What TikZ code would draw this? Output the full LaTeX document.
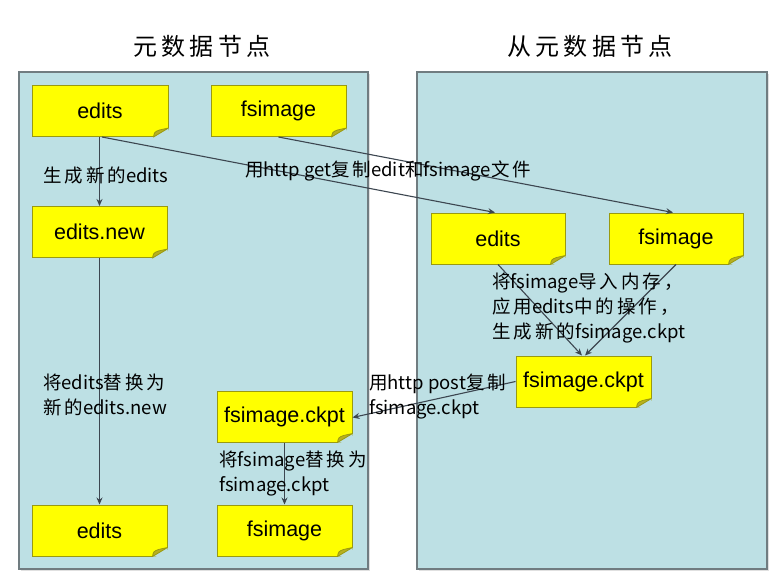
\documentclass[tikz,border=0pt]{standalone}
\usepackage{fontspec}
\setmainfont{Liberation Sans}
\newfontfamily\cjk{Noto Sans CJK SC}
\newfontfamily\cjks[LetterSpace=16]{Noto Sans CJK SC}
\newfontfamily\cjktitle[LetterSpace=17]{Noto Sans CJK SC}
\usetikzlibrary{arrows.meta}
\definecolor{panelfill}{HTML}{BDE0E4}
\definecolor{panelline}{HTML}{707C80}
\definecolor{noteyellow}{HTML}{FFFF00}
\definecolor{noteline}{HTML}{9A9A10}
\definecolor{notefold}{HTML}{B8B020}
\definecolor{wire}{HTML}{3C4650}
\newcommand\cs[1]{{\cjks #1}}
\newcommand\notefoldat[1]{%
  \fill[panelfill] ([xshift=-15pt]#1.south east) -- ([xshift=1pt,yshift=-1pt]#1.south east) -- ([yshift=9pt]#1.south east) -- cycle;
  \filldraw[fill=notefold, draw=noteline, line width=0.8pt, line join=round]
    ([xshift=-15pt]#1.south east) .. controls ([xshift=-14pt,yshift=5pt]#1.south east) .. ([xshift=-9pt,yshift=7pt]#1.south east)
    -- ([yshift=9pt]#1.south east) -- cycle;}
\begin{document}
\begin{tikzpicture}[x=1pt,y=-1pt,
  panel/.style={draw=panelline, fill=panelfill, line width=1.2pt},
  note/.style={draw=noteline, fill=noteyellow, line width=1pt, minimum width=135pt, minimum height=51pt, inner sep=0pt, font=\fontsize{21.5}{24}\selectfont},
  wirearrow/.style={draw=wire, line width=1.1pt, -{Stealth[length=7pt,width=6pt]}},
  lbl/.style={anchor=west, align=left, inner sep=0pt, font=\cjk\fontsize{18.5}{25}\selectfont},
  ttl/.style={inner sep=0pt, font=\cjktitle\fontsize{24}{28}\selectfont}]
\useasboundingbox (0,0) rectangle (779,578);
\fill[white] (0,0) rectangle (779,578);
% panels
\fill[black!12] (21,74) rectangle (370,571);
\fill[black!12] (419,74) rectangle (769,571);
\path[panel] (19,72) rectangle (368,569);
\path[panel] (417,72) rectangle (767,569);
% titles
\node[ttl] (t1) at (202,46) {元数据节点};
\node[ttl] (t2) at (590,46) {从元数据节点};
% notes
\node[note, minimum width=136pt] (e1) at (100,111) {edits};
\node[note] (f1) at (278.5,111) {fsimage};
\node[note] (en) at (99.5,232) {edits.new};
\node[note] (e2) at (99.5,530.5) {edits};
\node[note] (ck1) at (284.5,416.5) {fsimage.ckpt};
\node[note] (f2) at (284.5,530.5) {fsimage};
\node[note, minimum width=134pt] (e3) at (498,238.5) {edits};
\node[note, minimum width=134pt] (f3) at (676,238.5) {fsimage};
\node[note] (ck3) at (583.5,381.5) {fsimage.ckpt};
\foreach \n in {e1,f1,en,e2,ck1,f2,e3,f3,ck3} {\notefoldat{\n}}
% connectors
\draw[wirearrow] (en.north |- e1.south) -- (en.north);
\draw[wirearrow] (en.south) -- (e2.north);
\draw[wirearrow] ([xshift=2pt]e1.south) -- ([xshift=-3pt]e3.north);
\draw[wirearrow] (f1.south) -- ([xshift=-3pt]f3.north);
\draw[wirearrow] (e3.south) -- ([xshift=-1.5pt]ck3.north);
\draw[wirearrow] (f3.south) -- ([xshift=1.5pt]ck3.north);
\draw[wirearrow] (ck3.west) -- ([yshift=-1pt]ck1.east);
\draw[wirearrow] (ck1.south) -- (f2.north);
% labels
\node[lbl] (l1) at (43,175) {\cs{生成新的}edits};
\node[lbl] (l2) at (245,171) {\cs{用}http get\cs{复制}edit\cs{和}fsimage\cs{文件}};
\node[lbl] (l3) at (43,395) {\cs{将}edits\cs{替换为}\\\cs{新的}edits.new};
\node[lbl] (l4) at (219,474) {\cs{将}fsimage\cs{替换为}\\fsimage.ckpt};
\node[lbl] (l5) at (492,308) {\cs{将}fsimage\cs{导入内存，}\\\cs{应用}edits\cs{中的操作，}\\\cs{生成新的}fsimage.ckpt};
\node[lbl] (l6) at (369,397) {\cs{用}http post\cs{复制}\\fsimage.ckpt};
\end{tikzpicture}
\end{document}
